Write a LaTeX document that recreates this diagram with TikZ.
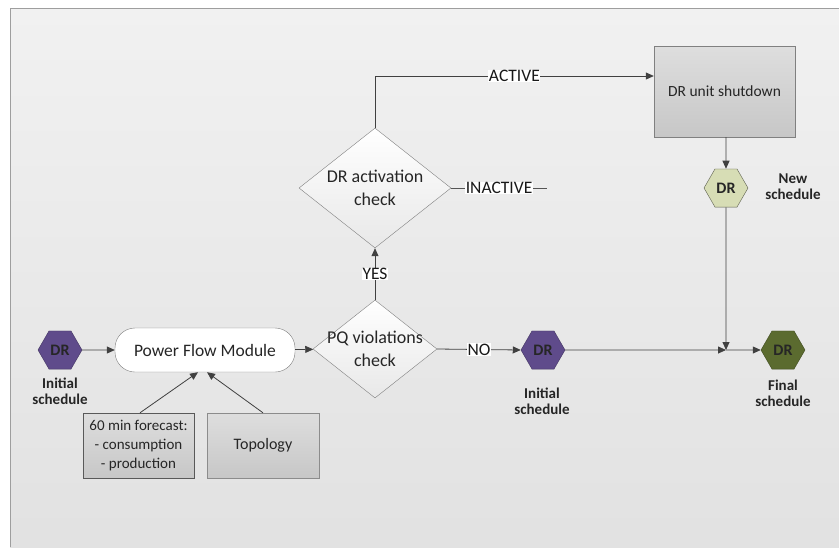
\documentclass[tikz,border=0pt]{standalone}
\usepackage{fontspec}
\setmainfont{Carlito}
\usetikzlibrary{shapes.geometric,arrows.meta}
\definecolor{lin}{HTML}{555555}
\definecolor{tipc}{HTML}{404040}
\definecolor{purp}{HTML}{5F4B8B}
\definecolor{olive}{HTML}{5B6B2F}
\definecolor{lgreen}{HTML}{D7DDB5}
\tikzset{
  hexa/.style={regular polygon, regular polygon sides=6, minimum size=44pt, inner sep=0pt, draw=#1!70!black, font=\fontsize{16}{18}\selectfont\bfseries, text=black!85},
  conn/.style={draw=lin, line width=0.8pt},
  arr/.style={conn, -{Triangle[length=8pt,width=7pt]}, tipc},
  lab/.style={font=\fontsize{15}{18}\selectfont\bfseries, text=black!85, align=center},
  graybox/.style={draw=#1, top color=black!13, bottom color=black!22, text=black!85, align=center},
  dia/.style={diamond, aspect=1.27, draw=black!50, top color=white, bottom color=black!9, font=\fontsize{18}{23}\selectfont, text=black!85, align=center, inner sep=-25pt},
  tag/.style={fill=white, inner sep=0.5pt, font=\fontsize{17.5}{19}\selectfont, text=black!90},
}
\begin{document}
\begin{tikzpicture}[x=1pt,y=-1pt]
\useasboundingbox (0,0) rectangle (839,547);
\fill[white] (0,0) rectangle (839,547);
\shade[top color=black!5.5, bottom color=black!11.5] (10,8) rectangle (839,547);
\draw[black!38, line width=1pt] (10,547) -- (10,8) -- (839,8);

% nodes
\node[hexa=purp, fill=purp] (dr1) at (60,350) {DR};
\node[lab] (l1) at (60,391) {Initial\\[-2pt]schedule};
\node[draw=black!50, fill=white, rounded corners=20pt, minimum width=180pt, minimum height=44pt, font=\fontsize{17.5}{20}\selectfont, text=black!85] (pfm) at (205,350) {Power Flow Module};
\node[dia, minimum width=124pt, minimum height=98pt] (pq) at (375,349) {PQ violations\\check};
\node[graybox=black!65, minimum width=111pt, minimum height=65pt, font=\fontsize{15}{19}\selectfont] (fc) at (138.5,445.5) {60 min forecast:\\- consumption\\- production};
\node[graybox=black!45, minimum width=112pt, minimum height=65pt, font=\fontsize{16}{19}\selectfont] (topo) at (263,445.5) {Topology};
\node[dia, minimum width=152pt, minimum height=120pt] (dra) at (375,188) {DR activation\\check};
\node[graybox=black!50, minimum width=141pt, minimum height=91pt, font=\fontsize{15.5}{19}\selectfont] (sd) at (724.5,91.5) {DR unit shutdown};
\node[hexa=lgreen!60!black, fill=lgreen] (dr3) at (726,188) {DR};
\node[lab] (l3) at (793,187) {New\\[-2pt]schedule};
\node[hexa=purp, fill=purp] (dr2) at (543,350) {DR};
\node[lab] (l2) at (542,401) {Initial\\[-2pt]schedule};
\node[hexa=olive, fill=olive] (dr4) at (783,350) {DR};
\node[lab] (l4) at (783,393) {Final\\[-2pt]schedule};

\coordinate (act) at (375,76);
\coordinate (inend) at (547,188);
\coordinate (m) at (726,350);

% connectors
\draw[arr] (dr1) -- (pfm);
\draw[arr] (pfm) -- (pq);
\draw[arr] ([xshift=1.5pt]fc.north) -- ([xshift=-7pt]pfm.south);
\draw[arr] (topo.north) -- ([xshift=2pt]pfm.south);
\draw[arr] (pq.north) -- node[tag, pos=0.5] {YES} (dra.south);
\draw[arr] (dra.north) -- (act) -- node[tag, pos=0.5] {ACTIVE} (act -| sd.west);
\draw[conn] (dra.east) -- node[tag, pos=0.5] {INACTIVE} (inend);
\draw[arr] (sd.south -| dr3) -- (dr3.north);
\draw[arr] (pq.east) -- node[tag, pos=0.5] {NO} (dr2.west);
\draw[arr] (dr2.east) -- (m);
\draw[arr] (dr3.south) -- (m);
\draw[arr] (m) -- (dr4.west);
\end{tikzpicture}
\end{document}
